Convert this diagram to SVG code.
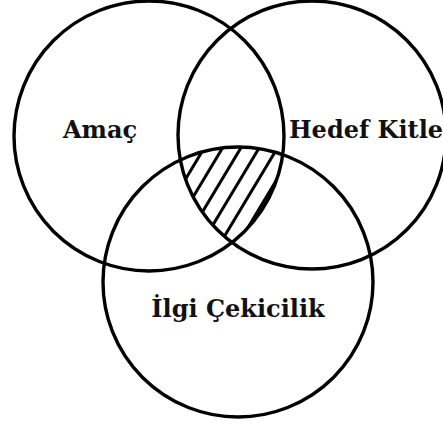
<svg xmlns="http://www.w3.org/2000/svg" width="443" height="423" viewBox="0 0 443 423">
<style>
.c{fill:none;stroke:#000;stroke-width:3.4}
.h{stroke:#000;stroke-width:3}
.t{font-family:"DejaVu Serif","Liberation Serif",serif;font-weight:bold;font-size:24px;fill:#111}
</style>
<defs>
<clipPath id="cA"><circle cx="149" cy="136" r="135"/></clipPath>
<clipPath id="cB"><circle cx="312" cy="135" r="134"/></clipPath>
<clipPath id="cC"><circle cx="238" cy="282" r="135"/></clipPath>
</defs>
<rect width="443" height="423" fill="#fff"/>
<g id="hatch" clip-path="url(#cA)"><g clip-path="url(#cB)"><g clip-path="url(#cC)">
<line class="h" x1="136" y1="140" x2="70" y2="250"/>
<line class="h" x1="154" y1="140" x2="88" y2="250"/>
<line class="h" x1="172" y1="140" x2="106" y2="250"/>
<line class="h" x1="190.7" y1="140" x2="124.7" y2="250"/>
<line class="h" x1="209" y1="140" x2="143" y2="250"/>
<line class="h" x1="227.3" y1="140" x2="161.3" y2="250"/>
<line class="h" x1="245.6" y1="140" x2="179.6" y2="250"/>
<line class="h" x1="263.9" y1="140" x2="197.9" y2="250"/>
<line class="h" x1="282.2" y1="140" x2="216.2" y2="250"/>
<line class="h" x1="300.5" y1="140" x2="234.5" y2="250"/>
<line class="h" x1="318.8" y1="140" x2="252.8" y2="250"/>
</g></g></g>
<g id="amac"><circle class="c" cx="149" cy="136" r="135"/><text class="t" x="100" y="138" text-anchor="middle">Amaç</text></g>
<g id="hedef-kitle"><circle class="c" cx="312" cy="135" r="134"/><text class="t" x="366" y="138" text-anchor="middle">Hedef Kitle</text></g>
<g id="ilgi-cekicilik"><circle class="c" cx="238" cy="282" r="135"/><text class="t" x="238" y="317" text-anchor="middle">İlgi Çekicilik</text></g>
</svg>
